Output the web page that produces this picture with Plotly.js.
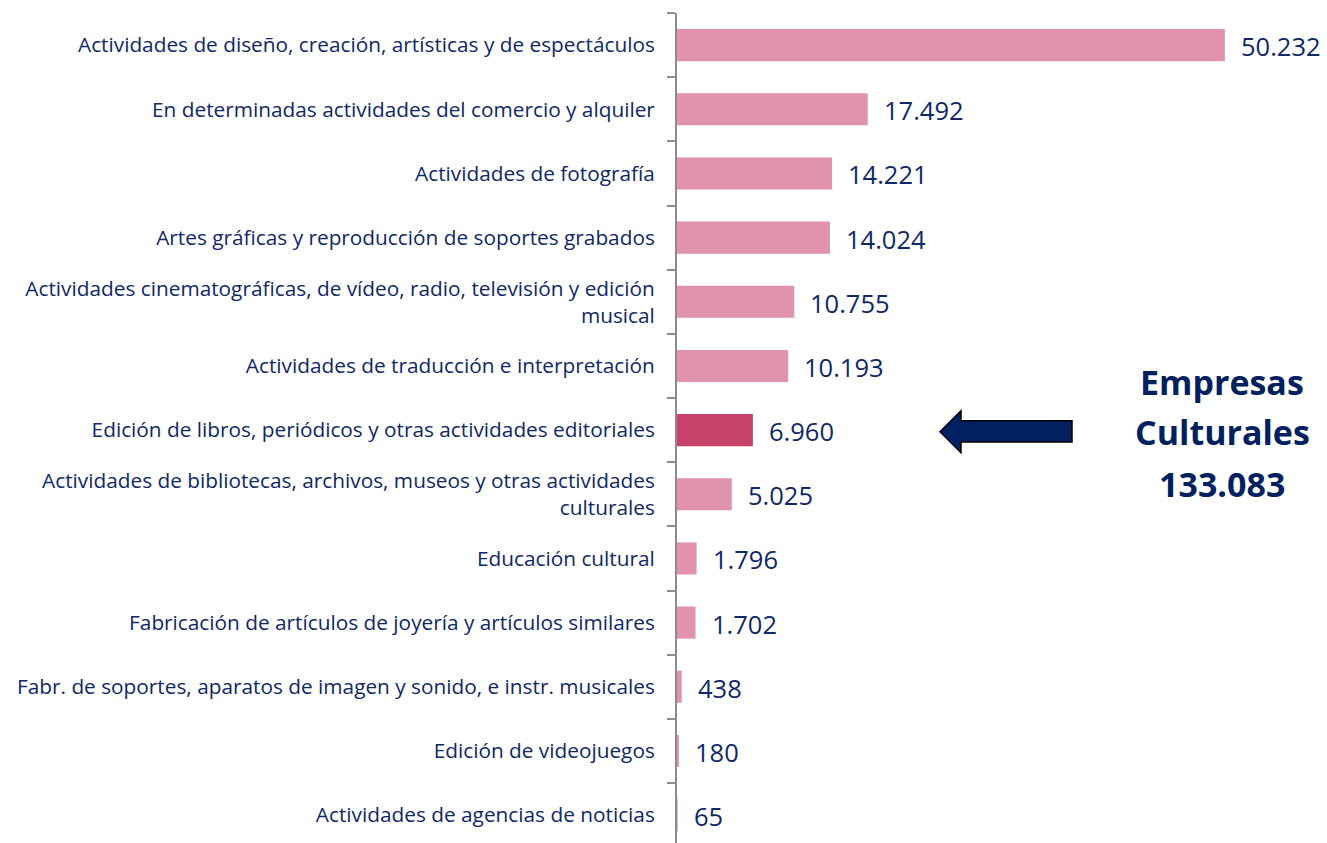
<!DOCTYPE html>
<html>
<head>
<meta charset="utf-8">
<script src="https://cdn.plot.ly/plotly-3.0.1.min.js"></script>
<style>html,body{margin:0;padding:0;background:#fff;}#chart{width:1327px;height:843px;}</style>
</head>
<body>
<div id="chart"></div>
<script>
const categories = [
  "Actividades de diseño, creación, artísticas y de espectáculos",
  "En determinadas actividades del comercio y alquiler",
  "Actividades de fotografía",
  "Artes gráficas y reproducción de soportes grabados",
  "Actividades cinematográficas, de vídeo, radio, televisión y edición<br>musical",
  "Actividades de traducción e interpretación",
  "Edición de libros, periódicos y otras actividades editoriales",
  "Actividades de bibliotecas, archivos, museos y otras actividades<br>culturales",
  "Educación cultural",
  "Fabricación de artículos de joyería y artículos similares",
  "Fabr. de soportes, aparatos de imagen y sonido, e instr. musicales",
  "Edición de videojuegos",
  "Actividades de agencias de noticias"
];
const empresas = [50232, 17492, 14221, 14024, 10755, 10193, 6960, 5025, 1796, 1702, 438, 180, 65];
const highlighted = "Edición de libros, periódicos y otras actividades editoriales";
const totalTitle = ["Empresas", "Culturales"];

const pink = "#E093AA", dark = "#C8416A", navy = "#0F2868", boxNavy = "#002060";
const fmt = v => v.toString().replace(/\B(?=(\d{3})+(?!\d))/g, ".");
const total = empresas.reduce((a, b) => a + b, 0);

const trace = {
  type: "bar", orientation: "h",
  x: empresas, y: categories,
  width: 0.5,
  marker: {color: categories.map(c => c === highlighted ? dark : pink)},
  hoverinfo: "none"
};

const annotations = empresas.map((v, i) => ({
  x: v, y: categories[i], xref: "x", yref: "y",
  text: fmt(v), showarrow: false, xanchor: "left", yanchor: "middle",
  xshift: 14, yshift: -1,
  font: {family: "Open Sans", size: 25.5, color: navy}
}));
const tLines = totalTitle.concat([fmt(total)]);
const tY = [0.555, 0.495, 0.432];
tLines.forEach((t, i) => annotations.push({
  x: 0.839, y: tY[i], xref: "paper", yref: "paper",
  text: "<b>" + t + "</b>", showarrow: false, xanchor: "center", yanchor: "middle",
  font: {family: "Open Sans", size: 34, color: boxNavy}
}));

// arrow shape (paper coords)
const P = (px, py) => [((px - 677) / 650).toFixed(4), ((843 - py) / 830).toFixed(4)].join(",");
const arrowPath = "M" + P(940, 431.7) + " L" + P(961, 410.7) + " L" + P(961, 420.7) + " L" + P(1072, 420.7) +
  " L" + P(1072, 442) + " L" + P(961, 442) + " L" + P(961, 452.7) + " Z";

const layout = {
  width: 1327, height: 843,
  margin: {l: 677, r: 0, t: 13, b: 0, pad: 0},
  paper_bgcolor: "#fff", plot_bgcolor: "#fff",
  showlegend: false,
  separators: ",.",
  xaxis: {range: [0, 59600], visible: false, fixedrange: true},
  yaxis: {
    type: "category", categoryorder: "array", categoryarray: categories,
    range: [12.435, -0.5],
    showline: true, linecolor: "#8C8C8C", linewidth: 2,
    ticks: "outside", tickson: "boundaries", ticklen: 8, tickwidth: 2, tickcolor: "#8C8C8C",
    showgrid: false, zeroline: false,
    tickfont: {family: "Open Sans", size: 20.8, color: navy},
    ticklabelstandoff: 16,
    fixedrange: true
  },
  annotations: annotations,
  shapes: [{type: "path", xref: "paper", yref: "paper", path: arrowPath,
    fillcolor: boxNavy, line: {color: "#000", width: 1.5}}]
};

Plotly.newPlot("chart", [trace], layout, {displayModeBar: false, staticPlot: true});
</script>
</body>
</html>
